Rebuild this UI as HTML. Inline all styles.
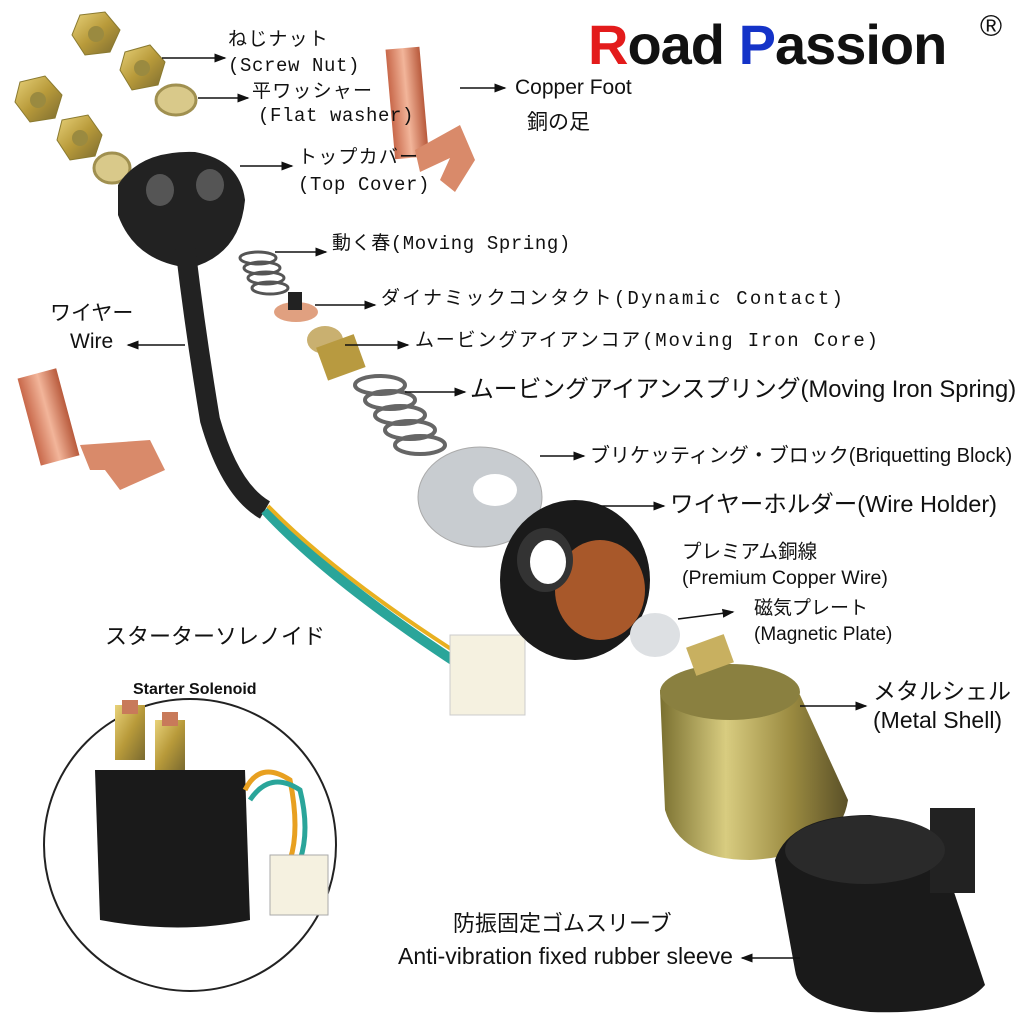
<!DOCTYPE html>
<html><head><meta charset="utf-8">
<style>
html,body{margin:0;padding:0;background:#fff;}
#c{position:relative;width:1024px;height:1024px;overflow:hidden;font-family:"Liberation Sans","Noto Sans CJK JP",sans-serif;color:#111;}
.t{position:absolute;white-space:nowrap;line-height:1;}
.m{font-family:"Liberation Mono","Noto Sans CJK JP",monospace;font-size:19px;letter-spacing:1.2px;}
.s{font-size:21px;}
svg{position:absolute;left:0;top:0;}
</style></head><body><div id="c">
<svg width="1024" height="1024" viewBox="0 0 1024 1024">
<defs>
<linearGradient id="gold" x1="0" y1="0" x2="1" y2="1"><stop offset="0" stop-color="#e8d27a"/><stop offset=".5" stop-color="#b89a3a"/><stop offset="1" stop-color="#7a6a30"/></linearGradient>
<linearGradient id="cop" x1="0" y1="0" x2="1" y2="0"><stop offset="0" stop-color="#c8684a"/><stop offset=".5" stop-color="#f2b59a"/><stop offset="1" stop-color="#b85a3c"/></linearGradient>
<linearGradient id="shell" x1="0" y1="0" x2="1" y2="0"><stop offset="0" stop-color="#7a7030"/><stop offset=".35" stop-color="#d8cc80"/><stop offset=".7" stop-color="#9a8a40"/><stop offset="1" stop-color="#5a5028"/></linearGradient>
<marker id="a" markerWidth="8" markerHeight="8" refX="7" refY="4" orient="auto"><path d="M0,1 L8,4 L0,7z" fill="#111"/></marker>
</defs>
<g fill="url(#gold)" stroke="#8a7a30">
<polygon points="80,15 105,12 120,30 110,52 85,55 72,35"/>
<polygon points="125,52 150,45 165,62 158,85 132,90 120,70"/>
<polygon points="20,82 45,76 62,95 55,118 30,122 15,102"/>
<polygon points="62,120 88,115 102,135 95,156 70,160 57,140"/>
</g>
<g fill="#9a8a40"><circle cx="96" cy="34" r="8"/><circle cx="142" cy="68" r="8"/><circle cx="38" cy="100" r="8"/><circle cx="80" cy="138" r="8"/></g>
<ellipse cx="176" cy="100" rx="20" ry="15" fill="#d9c98a" stroke="#a09050" stroke-width="3"/>
<ellipse cx="112" cy="168" rx="18" ry="15" fill="#d9c98a" stroke="#a09050" stroke-width="3"/>
<path d="M118,185 Q140,150 195,152 Q240,160 245,200 Q240,255 190,268 Q135,262 118,215z" fill="#222"/>
<ellipse cx="160" cy="190" rx="14" ry="16" fill="#555"/><ellipse cx="210" cy="185" rx="14" ry="16" fill="#555"/>
<path d="M185,245 Q195,330 210,420 Q230,490 265,510" stroke="#222" stroke-width="20" fill="none"/>
<path d="M265,510 Q330,580 460,665" stroke="#2aa59a" stroke-width="10" fill="none"/>
<path d="M268,506 Q335,575 465,658" stroke="#e8b020" stroke-width="4" fill="none"/>
<rect x="450" y="635" width="75" height="80" fill="#f5f1e0" stroke="#ccc"/>
<rect x="390" y="48" width="34" height="110" fill="url(#cop)" transform="rotate(-5 407 100)"/>
<path d="M415,150 L460,125 L475,160 L455,192 L440,180 L450,158 L420,172z" fill="#d98a6a"/>
<rect x="28" y="372" width="40" height="90" fill="url(#cop)" transform="rotate(-15 48 415)"/>
<path d="M80,445 L150,440 L165,470 L120,490 L105,470 L90,470z" fill="#d98a6a"/>
<g stroke="#555" stroke-width="3" fill="none">
<ellipse cx="258" cy="258" rx="18" ry="6"/><ellipse cx="262" cy="268" rx="18" ry="6"/><ellipse cx="266" cy="278" rx="18" ry="6"/><ellipse cx="270" cy="288" rx="18" ry="6"/>
</g>
<ellipse cx="296" cy="312" rx="22" ry="10" fill="#e0a080"/><rect x="288" y="292" width="14" height="18" fill="#222"/>
<ellipse cx="325" cy="340" rx="18" ry="14" fill="#c9b070"/><rect x="320" y="340" width="40" height="35" fill="#b89a40" transform="rotate(-20 340 355)"/>
<g stroke="#666" stroke-width="4" fill="none">
<ellipse cx="380" cy="385" rx="25" ry="9"/><ellipse cx="390" cy="400" rx="25" ry="9"/><ellipse cx="400" cy="415" rx="25" ry="9"/><ellipse cx="410" cy="430" rx="25" ry="9"/><ellipse cx="420" cy="445" rx="25" ry="9"/>
</g>
<ellipse cx="480" cy="497" rx="62" ry="50" fill="#c8ccd0" stroke="#aaa"/><ellipse cx="495" cy="490" rx="22" ry="16" fill="#fff"/>
<ellipse cx="575" cy="580" rx="75" ry="80" fill="#1a1a1a"/><ellipse cx="600" cy="590" rx="45" ry="50" fill="#a8582a"/><ellipse cx="545" cy="560" rx="28" ry="32" fill="#333"/><ellipse cx="548" cy="562" rx="18" ry="22" fill="#fff"/>
<ellipse cx="655" cy="635" rx="25" ry="22" fill="#dde0e3"/>
<path d="M660,690 L665,810 Q680,860 750,860 Q840,855 848,800 L800,695z" fill="url(#shell)"/>
<ellipse cx="730" cy="692" rx="70" ry="28" fill="#8a8040"/>
<rect x="690" y="640" width="40" height="30" fill="#c8b060" transform="rotate(-20 710 655)"/>
<path d="M775,860 Q790,815 870,815 Q950,825 950,880 L985,985 Q960,1015 870,1012 Q800,1005 795,970z" fill="#1a1a1a"/>
<rect x="930" y="808" width="45" height="85" fill="#222"/>
<ellipse cx="865" cy="850" rx="80" ry="34" fill="#2a2a2a"/>
<circle cx="190" cy="845" r="146" fill="#fff" stroke="#222" stroke-width="2"/>
<path d="M95,770 L245,770 L250,920 Q180,935 100,920z" fill="#1a1a1a"/>
<rect x="115" y="705" width="30" height="55" fill="url(#gold)"/><rect x="155" y="720" width="30" height="50" fill="url(#gold)"/>
<rect x="122" y="700" width="16" height="14" fill="#c87a5a"/><rect x="162" y="712" width="16" height="14" fill="#c87a5a"/>
<path d="M245,790 Q260,760 290,780 Q300,830 290,860" stroke="#e8a020" stroke-width="5" fill="none"/>
<path d="M250,800 Q270,770 300,790 Q310,830 300,860" stroke="#2aa59a" stroke-width="5" fill="none"/>
<rect x="270" y="855" width="58" height="60" fill="#f5f1e0" stroke="#aaa"/>
<g stroke="#111" stroke-width="1.5" marker-end="url(#a)">
<line x1="162" y1="58" x2="225" y2="58"/>
<line x1="198" y1="98" x2="248" y2="98"/>
<line x1="460" y1="88" x2="505" y2="88"/>
<line x1="240" y1="166" x2="292" y2="166"/>
<line x1="275" y1="252" x2="326" y2="252"/>
<line x1="315" y1="305" x2="375" y2="305"/>
<line x1="185" y1="345" x2="128" y2="345"/>
<line x1="345" y1="345" x2="408" y2="345"/>
<line x1="405" y1="392" x2="465" y2="392"/>
<line x1="540" y1="456" x2="584" y2="456"/>
<line x1="600" y1="506" x2="664" y2="506"/>
<line x1="678" y1="619" x2="733" y2="612"/>
<line x1="800" y1="706" x2="866" y2="706"/>
<line x1="800" y1="958" x2="742" y2="958"/>
</g>
</svg>
<div class="t" style="left:588px;top:17px;font-size:56px;font-weight:bold;letter-spacing:-1px"><span style="color:#e31b1b">R</span>oad <span style="color:#1433c8">P</span>assion</div>
<div class="t" style="left:980px;top:12px;font-size:30px">®</div>
<div class="t m" style="left:228px;top:31px">ねじナット</div>
<div class="t m" style="left:228px;top:57px;letter-spacing:0.6px">(Screw Nut)</div>
<div class="t m" style="left:252px;top:83px">平ワッシャー</div>
<div class="t m" style="left:258px;top:107px;letter-spacing:0.6px">(Flat washer)</div>
<div class="t s" style="left:515px;top:77px">Copper Foot</div>
<div class="t s" style="left:527px;top:112px">銅の足</div>
<div class="t m" style="left:298px;top:149px">トップカバー</div>
<div class="t m" style="left:298px;top:176px;letter-spacing:0.6px">(Top Cover)</div>
<div class="t m" style="left:332px;top:235px;letter-spacing:0.6px">動く春(Moving Spring)</div>
<div class="t m" style="left:381px;top:290px;letter-spacing:2.2px">ダイナミックコンタクト(Dynamic Contact)</div>
<div class="t s" style="left:50px;top:303px">ワイヤー</div>
<div class="t s" style="left:70px;top:331px">Wire</div>
<div class="t m" style="left:415px;top:332px;letter-spacing:1.8px">ムービングアイアンコア(Moving Iron Core)</div>
<div class="t" style="left:470px;top:378px;font-size:23.8px">ムービングアイアンスプリング(Moving Iron Spring)</div>
<div class="t" style="left:590px;top:446px;font-size:20px">ブリケッティング・ブロック(Briquetting Block)</div>
<div class="t" style="left:670px;top:493px;font-size:23.5px">ワイヤーホルダー(Wire Holder)</div>
<div class="t" style="left:682px;top:543px;font-size:19.5px">プレミアム銅線</div>
<div class="t" style="left:682px;top:569px;font-size:19.5px">(Premium Copper Wire)</div>
<div class="t" style="left:754px;top:599px;font-size:19px">磁気プレート</div>
<div class="t" style="left:754px;top:625px;font-size:19px">(Magnetic Plate)</div>
<div class="t" style="left:873px;top:680px;font-size:23px">メタルシェル</div>
<div class="t" style="left:873px;top:709px;font-size:23px">(Metal Shell)</div>
<div class="t" style="left:105px;top:626px;font-size:22px">スターターソレノイド</div>
<div class="t" style="left:133px;top:682px;font-size:16px;font-weight:bold">Starter Solenoid</div>
<div class="t" style="left:453px;top:913px;font-size:22px">防振固定ゴムスリーブ</div>
<div class="t" style="left:398px;top:945px;font-size:23px">Anti-vibration fixed rubber sleeve</div>
</div></body></html>
